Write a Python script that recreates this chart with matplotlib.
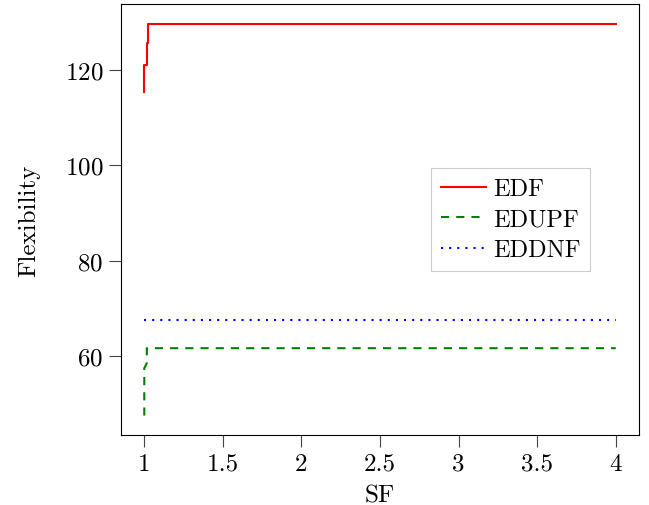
import matplotlib
matplotlib.use('Agg')
import matplotlib.pyplot as plt
import numpy as np

#--------------- Style ---------------------
plt.rcParams['font.family'] = 'cmr10'
plt.rcParams['mathtext.fontset'] = 'cm'
plt.rcParams['axes.formatter.use_mathtext'] = True
plt.rcParams['font.size'] = 18
plt.rcParams['xtick.labelsize'] = 18
plt.rcParams['ytick.labelsize'] = 18
plt.rcParams['legend.fontsize'] = 17.5

# ------------------------------- data ---------------------------------
sf_edf = [1.0, 1.0, 1.015, 1.015, 1.025, 1.025, 4.0]
edf = [115.3, 120.9, 120.9, 125.6, 125.6, 129.6, 129.6]

sf_edupf = [1.0, 1.0, 1.012, 1.016, 1.016, 4.0]
edupf = [47.6, 57.5, 58.3, 58.6, 61.7, 61.7]

sf_eddnf = [1.0, 4.0]
eddnf = [67.6, 67.6]

xticks = [1, 1.5, 2, 2.5, 3, 3.5, 4]
yticks = [60, 80, 100, 120]

# ------------------------------- plot ---------------------------------
fig, ax = plt.subplots(figsize=(6.49, 5.06), dpi=100)
ax.plot(sf_edf, edf, color='red', linewidth=1.5, label='EDF')
ax.plot(sf_edupf, edupf, color='green', linewidth=1.5, dashes=(3.9, 3.4), label='EDUPF')
ax.plot(sf_eddnf, eddnf, color='blue', linewidth=1.5, dashes=(1, 2.9), label='EDDNF')

ax.set_xticks(xticks)
ax.set_xticklabels(['1', '1.5', '2', '2.5', '3', '3.5', '4'])
ax.set_yticks(yticks)
ax.set_xlim(0.85, 4.15)
ax.set_ylim(43.5, 133.7)
ax.tick_params(direction='out', length=8.5, width=0.8, color='#444444', pad=4)
ax.set_xlabel('SF', labelpad=7)
ax.set_ylabel('Flexibility', labelpad=18)

leg = ax.legend(loc='center', bbox_to_anchor=(0.752, 0.50), fancybox=False,
                edgecolor='#cccccc', framealpha=1, handlelength=1.85,
                borderpad=0.4, labelspacing=0.35, handletextpad=0.3)
leg.get_frame().set_linewidth(0.8)

plt.subplots_adjust(left=0.186, right=0.985, top=0.990, bottom=0.138)
fig.savefig('out.png', dpi=100)
